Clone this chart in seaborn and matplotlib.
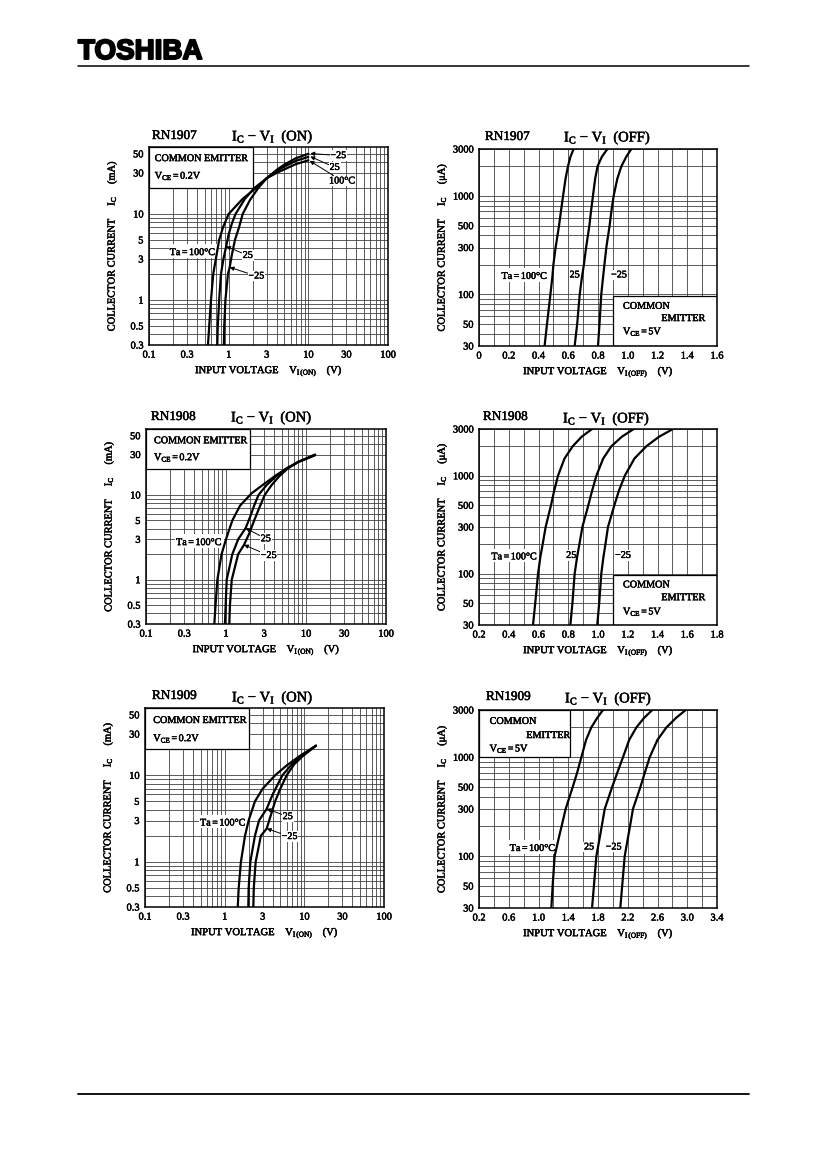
import matplotlib
matplotlib.use("Agg")
import matplotlib.pyplot as plt
import numpy as np
import pandas as pd
import seaborn as sns
from matplotlib.patches import Rectangle
from matplotlib.lines import Line2D
from matplotlib.ticker import FixedLocator, FixedFormatter, NullFormatter
import matplotlib.patheffects as pe

# ------------------------------------------------------------------ data
TEMPS = ["100", "25", "-25"]

# RN1907  IC - VI(ON)   (V, mA)
ON1907_V_100 = [0.55, 0.57, 0.60, 0.64, 0.69, 0.76, 0.85, 1.0, 1.5, 2.2, 3.0, 4.0, 5.0, 7.0, 10.0]
ON1907_I_100 = [0.3, 0.5, 1, 2, 3, 5, 7, 10, 15, 20, 26, 30, 33, 38, 42]
ON1907_V_25 = [0.72, 0.73, 0.76, 0.80, 0.86, 0.93, 1.0, 1.1, 1.22, 1.6, 2.1, 3.0, 4.0, 5.0, 7.0, 10.0]
ON1907_I_25 = [0.3, 0.5, 1, 2, 3, 4.2, 5.8, 7.8, 10, 15, 20, 26, 31.5, 35.5, 41.5, 46]
ON1907_V_M25 = [0.87, 0.88, 0.91, 0.98, 1.03, 1.1, 1.2, 1.35, 1.5, 1.85, 2.35, 3.0, 4.0, 5.0, 7.0, 10.0]
ON1907_I_M25 = [0.3, 0.5, 1, 2, 2.4, 3.4, 5, 7, 10, 14.5, 20, 26, 32.5, 37.5, 44.5, 50]

# RN1908  IC - VI(ON)
ON1908_V_100 = [0.715, 0.74, 0.78, 0.88, 1.0, 1.2, 1.5, 2.1, 3.0, 4.2, 5.7, 8.0, 13.0]
ON1908_I_100 = [0.3, 0.5, 1, 2, 3, 5, 7.5, 10.5, 13.5, 17, 20.5, 24.5, 29.5]
ON1908_V_25 = [0.97, 0.99, 1.02, 1.2, 1.42, 1.76, 2.0, 2.25, 2.55, 3.2, 4.2, 5.7, 8.0, 13.0]
ON1908_I_25 = [0.3, 0.5, 1, 2, 3, 4.06, 5.5, 7.5, 10, 13, 16.5, 20.5, 24.5, 29.5]
ON1908_V_M25 = [1.1, 1.12, 1.18, 1.42, 1.68, 1.95, 2.25, 2.6, 3.05, 3.7, 4.6, 5.9, 8.0, 13.0]
ON1908_I_M25 = [0.3, 0.5, 1, 2, 2.58, 3.5, 5, 7, 10, 13, 16.5, 20.5, 24.5, 30]

# RN1909  IC - VI(ON)
ON1909_V_100 = [1.46, 1.5, 1.6, 1.8, 2.0, 2.4, 3.0, 4.3, 6.0, 9.0, 14.0]
ON1909_I_100 = [0.3, 0.5, 1, 2, 3, 5, 7, 10, 13, 17, 22]
ON1909_V_25 = [1.98, 2.0, 2.1, 2.4, 2.7, 3.37, 4.0, 5.3, 7.0, 9.5, 14.0]
ON1909_I_25 = [0.3, 0.5, 1, 2, 3, 4.1, 6, 10, 13.5, 17, 22]
ON1909_V_M25 = [2.29, 2.32, 2.45, 2.85, 3.37, 3.7, 4.3, 5.0, 6.0, 7.5, 9.8, 14.0]
ON1909_I_M25 = [0.3, 0.5, 1, 2, 2.42, 3.2, 5, 7, 10, 13.5, 17, 22]

# IC - VI(OFF)   (V, uA)
OFF_I = [30, 50, 100, 150, 200, 300, 500, 700, 1000, 1500, 2000, 2500, 3000]
OFF1907_V_100 = [0.441, 0.457, 0.48, 0.493, 0.50, 0.515, 0.538, 0.551, 0.565, 0.582, 0.598, 0.615, 0.636]
OFF1907_V_25 = [0.643, 0.66, 0.677, 0.692, 0.705, 0.72, 0.742, 0.753, 0.766, 0.781, 0.797, 0.826, 0.863]
OFF1907_V_M25 = [0.80, 0.81, 0.822, 0.834, 0.843, 0.856, 0.878, 0.89, 0.905, 0.93, 0.957, 0.99, 1.024]

OFF1908_V_100 = [0.563, 0.578, 0.597, 0.613, 0.628, 0.648, 0.684, 0.705, 0.731, 0.775, 0.83, 0.89, 0.96]
OFF1908_V_25 = [0.814, 0.828, 0.843, 0.86, 0.875, 0.895, 0.935, 0.96, 0.989, 1.035, 1.09, 1.16, 1.24]
OFF1908_V_M25 = [0.995, 1.008, 1.022, 1.037, 1.05, 1.067, 1.11, 1.14, 1.18, 1.245, 1.325, 1.41, 1.504]

OFF1909_V_100 = [1.173, 1.19, 1.217, 1.27, 1.31, 1.365, 1.46, 1.52, 1.576, 1.64, 1.71, 1.79, 1.867]
OFF1909_V_25 = [1.72, 1.745, 1.778, 1.82, 1.85, 1.89, 1.99, 2.06, 2.136, 2.22, 2.316, 2.42, 2.53]
OFF1909_V_M25 = [2.1, 2.125, 2.159, 2.2, 2.23, 2.27, 2.37, 2.43, 2.495, 2.6, 2.72, 2.85, 2.98]

ON_XTICKS = [0.1, 0.3, 1, 3, 10, 30, 100]
ON_XLABELS = ["0.1", "0.3", "1", "3", "10", "30", "100"]
ON_YTICKS = [0.3, 0.5, 1, 3, 5, 10, 30, 50]
ON_YLABELS = ["0.3", "0.5", "1", "3", "5", "10", "30", "50"]
OFF_YTICKS = [30, 50, 100, 300, 500, 1000, 3000]
OFF_YLABELS = ["30", "50", "100", "300", "500", "1000", "3000"]
OFF1907_XTICKS = [0, 0.2, 0.4, 0.6, 0.8, 1.0, 1.2, 1.4, 1.6]
OFF1907_XLABELS = ["0", "0.2", "0.4", "0.6", "0.8", "1.0", "1.2", "1.4", "1.6"]
OFF1908_XTICKS = [0.2, 0.4, 0.6, 0.8, 1.0, 1.2, 1.4, 1.6, 1.8]
OFF1908_XLABELS = ["0.2", "0.4", "0.6", "0.8", "1.0", "1.2", "1.4", "1.6", "1.8"]
OFF1909_XTICKS = [0.2, 0.6, 1.0, 1.4, 1.8, 2.2, 2.6, 3.0, 3.4]
OFF1909_XLABELS = ["0.2", "0.6", "1.0", "1.4", "1.8", "2.2", "2.6", "3.0", "3.4"]

# ------------------------------------------------------------------ style
sns.set_style("white")
plt.rcParams["font.family"] = ["Liberation Serif", "DejaVu Serif"]
plt.rcParams["mathtext.fontset"] = "custom"
plt.rcParams["mathtext.rm"] = "Liberation Serif"
plt.rcParams["mathtext.it"] = "Liberation Serif:italic"
plt.rcParams["mathtext.bf"] = "Liberation Serif:bold"
plt.rcParams["mathtext.default"] = "rm"
for k in ["text.color", "axes.labelcolor", "xtick.color", "ytick.color", "axes.edgecolor"]:
    plt.rcParams[k] = "black"

W, H = 827, 1169
fig = plt.figure(figsize=(W / 100, H / 100), dpi=100)
fig.patch.set_facecolor("white")

# slight thickening of the serif text, like the printed sheet
INK = [pe.withStroke(linewidth=0.35, foreground="black")]


def rect(l, r, t, b):
    return [l / W, 1 - b / H, (r - l) / W, (b - t) / H]


def fx(x):
    return x / W


def fy(y):
    return 1 - y / H


GRID_KW = dict(color="#404040", lw=0.6)
ON_GRID_X = [m * 10.0 ** e for e in (-1, 0, 1) for m in range(1, 10)][1:]
ON_GRID_Y = [0.4, 0.6, 0.7, 0.8, 0.9, 2, 4, 6, 7, 8, 9, 20, 40]
OFF_GRID_Y = [40, 60, 70, 80, 90, 200, 400, 600, 700, 800, 900, 2000]


def draw_curves(ax, vs, is_):
    frames = []
    for t, v, i in zip(TEMPS, vs, is_):
        frames.append(pd.DataFrame({"v": v, "i": i, "ta": t}))
    df = pd.concat(frames, ignore_index=True)
    sns.lineplot(data=df, x="v", y="i", hue="ta", palette={t: "black" for t in TEMPS},
                 estimator=None, sort=True, lw=1.6, legend=False, ax=ax, zorder=3)


def base_axes(ax, xticks, xlabels, yticks, ylabels, xgrid, ygrid):
    ax.xaxis.set_major_locator(FixedLocator(xticks))
    ax.xaxis.set_major_formatter(FixedFormatter(xlabels))
    ax.xaxis.set_minor_locator(FixedLocator(xgrid))
    ax.xaxis.set_minor_formatter(NullFormatter())
    ax.yaxis.set_major_locator(FixedLocator(yticks))
    ax.yaxis.set_major_formatter(FixedFormatter(ylabels))
    ax.yaxis.set_minor_locator(FixedLocator(ygrid))
    ax.yaxis.set_minor_formatter(NullFormatter())
    ax.grid(True, which="both", **GRID_KW)
    ax.set_axisbelow(True)
    ax.tick_params(which="both", length=0, pad=4, labelsize=7.5, colors="black")
    for lab in ax.get_xticklabels() + ax.get_yticklabels():
        lab.set_path_effects(INK)
    for s in ax.spines.values():
        s.set_color("black")
        s.set_linewidth(1.1)
        s.set_visible(True)
    ax.set_xlabel("")
    ax.set_ylabel("")


def labels(ax, box, name, title, name_xy, title_xy, ylab, xlab):
    l, r, t, b = box
    fig.text(fx(name_xy[0]), fy(name_xy[1]), name, fontsize=9.5, ha="left", va="center",
             path_effects=INK)
    fig.text(fx(title_xy[0]), fy(title_xy[1]), title, fontsize=10.5, ha="left", va="center",
             path_effects=INK)
    fig.text(fx(l - 37), fy((t + b) / 2), ylab, fontsize=7.5, rotation=90,
             ha="center", va="center", path_effects=INK)
    fig.text(fx((l + r) / 2), fy(b + 26), xlab, fontsize=7.6, ha="center", va="center",
             path_effects=INK)


TXT_BOX = dict(fc="white", ec="none", pad=0.6)
ARROW = dict(arrowstyle="-|>", color="black", lw=0.7, mutation_scale=6,
             shrinkA=0, shrinkB=0)
TK = dict(fontsize=7.3, path_effects=INK)


def on_chart(box, name, vs, is_, name_xy, title_xy, ann, txt_pos):
    ax = fig.add_axes(rect(*box))
    ax.set_xscale("log")
    ax.set_yscale("log")
    draw_curves(ax, vs, is_)
    ax.set_xlim(0.1, 100)
    ax.set_ylim(0.3, 60)
    base_axes(ax, ON_XTICKS, ON_XLABELS, ON_YTICKS, ON_YLABELS, ON_GRID_X, ON_GRID_Y)
    ax.add_patch(Rectangle((0.1, 20), 1.9, 40, fc="white", ec="black", lw=0.9, zorder=1.5))
    ax.text(txt_pos[0], txt_pos[1], "COMMON EMITTER", ha="left", va="center", zorder=4, **TK)
    ax.text(txt_pos[0], txt_pos[2], r"V$_{\rm CE}$$=$0.2V", ha="left",
            va="center", zorder=4, **TK)
    for a in ann:
        if a[1] is None:
            ax.text(a[2][0], a[2][1], a[0], ha="right", va="center",
                    bbox=TXT_BOX, zorder=2.5, **TK)
        else:
            ax.annotate(a[0], xy=a[1], xytext=a[2], ha="left", va="center",
                        bbox=TXT_BOX, arrowprops=ARROW, zorder=2.5, **TK)
    labels(ax, box, name, r"I$_{\rm C}$ $-$ V$_{\rm I}$  (ON)", name_xy, title_xy,
           r"COLLECTOR CURRENT     I$_{\rm C}$     (mA)",
           r"INPUT VOLTAGE    V$_{\rm I\,(ON)}$    (V)")
    return ax


def off_chart(box, name, vs, xlim, xticks, xlabels, xgrid, name_xy, title_xy,
              lab_pos, cbox, ctext):
    ax = fig.add_axes(rect(*box))
    ax.set_yscale("log")
    draw_curves(ax, vs, [OFF_I] * 3)
    ax.set_xlim(*xlim)
    ax.set_ylim(30, 3000)
    base_axes(ax, xticks, xlabels, OFF_YTICKS, OFF_YLABELS, xgrid, OFF_GRID_Y)
    ax.add_patch(Rectangle((cbox[0], cbox[2]), cbox[1] - cbox[0], cbox[3] - cbox[2],
                           fc="white", ec="black", lw=0.9, zorder=1.5))
    for s, x, y in ctext:
        ax.text(x, y, s, ha="left", va="center", zorder=4, **TK)
    ly = lab_pos[3]
    ax.text(lab_pos[0], ly, "Ta$=$100°C", ha="right", va="center",
            bbox=TXT_BOX, zorder=2.5, **TK)
    ax.text(lab_pos[1], ly, "25", ha="center", va="center", bbox=TXT_BOX, zorder=2.5, **TK)
    ax.text(lab_pos[2], ly, "−25", ha="center", va="center", bbox=TXT_BOX, zorder=2.5, **TK)
    labels(ax, box, name, r"I$_{\rm C}$ $-$ V$_{\rm I}$  (OFF)", name_xy, title_xy,
           r"COLLECTOR CURRENT     I$_{\rm C}$     ($\mu$A)",
           r"INPUT VOLTAGE    V$_{\rm I\,(OFF)}$    (V)")
    return ax


# ------------------------------------------------------------------ header / footer
fig.text(fx(78), fy(52), "TOSHIBA", fontsize=20, fontweight="bold",
         family="Liberation Sans", ha="left", va="center", color="black",
         path_effects=[pe.withStroke(linewidth=1.4, foreground="black")])
fig.add_artist(Line2D([fx(78), fx(749)], [fy(66), fy(66)], color="black", lw=1.1))
fig.add_artist(Line2D([fx(78), fx(749)], [fy(1094), fy(1094)], color="black", lw=1.3))

# ------------------------------------------------------------------ ON charts
on_chart((149, 388, 147, 345), "RN1907",
         [ON1907_V_100, ON1907_V_25, ON1907_V_M25],
         [ON1907_I_100, ON1907_I_25, ON1907_I_M25],
         (152, 136), (232, 137),
         [("Ta$=$100°C", None, (0.70, 3.7)),
          ("25", (0.93, 4.2), (1.5, 3.3)),
          ("−25", (1.03, 2.4), (1.77, 1.9)),
          ("−25", (10.6, 50.5), (18.9, 47.7)),
          ("25", (10.6, 46.5), (18.5, 34.8)),
          ("100°C", (10.4, 41.5), (18.2, 24.2))],
         (0.118, 44, 27.7))

on_chart((146, 386, 429, 624), "RN1908",
         [ON1908_V_100, ON1908_V_25, ON1908_V_M25],
         [ON1908_I_100, ON1908_I_25, ON1908_I_M25],
         (151, 417), (231, 418),
         [("Ta$=$100°C", None, (0.91, 2.85)),
          ("25", (1.76, 4.06), (2.72, 3.04)),
          ("−25", (1.68, 2.58), (2.72, 1.93))],
         (0.126, 43.6, 27.7))

on_chart((145, 384, 708, 907), "RN1909",
         [ON1909_V_100, ON1909_V_25, ON1909_V_M25],
         [ON1909_I_100, ON1909_I_25, ON1909_I_M25],
         (152, 696), (232, 698),
         [("Ta$=$100°C", None, (1.89, 2.92)),
          ("25", (3.37, 4.1), (5.35, 3.33)),
          ("−25", (3.37, 2.42), (5.19, 1.96))],
         (0.127, 43, 26.7))

# ------------------------------------------------------------------ OFF charts
off_chart((479, 717, 149, 346), "RN1907",
          [OFF1907_V_100, OFF1907_V_25, OFF1907_V_M25],
          (0, 1.6), OFF1907_XTICKS, OFF1907_XLABELS, list(np.arange(0.1, 1.6, 0.1)),
          (485, 137), (564, 138),
          (0.465, 0.643, 0.941, 158),
          (0.9, 1.6, 30, 97),
          [("COMMON", 0.968, 76), ("EMITTER", 1.226, 57), (r"V$_{\rm CE}$$=$5V", 0.968, 42)])

off_chart((479, 717, 429, 625), "RN1908",
          [OFF1908_V_100, OFF1908_V_25, OFF1908_V_M25],
          (0.2, 1.8), OFF1908_XTICKS, OFF1908_XLABELS, list(np.arange(0.3, 1.8, 0.1)),
          (483, 417), (563, 419),
          (0.597, 0.82, 1.168, 154),
          (1.1, 1.8, 30, 96),
          [("COMMON", 1.168, 77), ("EMITTER", 1.426, 57), (r"V$_{\rm CE}$$=$5V", 1.168, 41)])

off_chart((479, 717, 710, 908), "RN1909",
          [OFF1909_V_100, OFF1909_V_25, OFF1909_V_M25],
          (0.2, 3.4), OFF1909_XTICKS, OFF1909_XLABELS, list(np.arange(0.4, 3.4, 0.2)),
          (486, 697), (565, 699),
          (1.24, 1.68, 2.01, 124),
          (0.2, 1.42, 1000, 3000),
          [("COMMON", 0.343, 2303), ("EMITTER", 0.836, 1657), (r"V$_{\rm CE}$$=$5V", 0.343, 1220)])

fig.savefig("out.png", dpi=100, facecolor="white")
